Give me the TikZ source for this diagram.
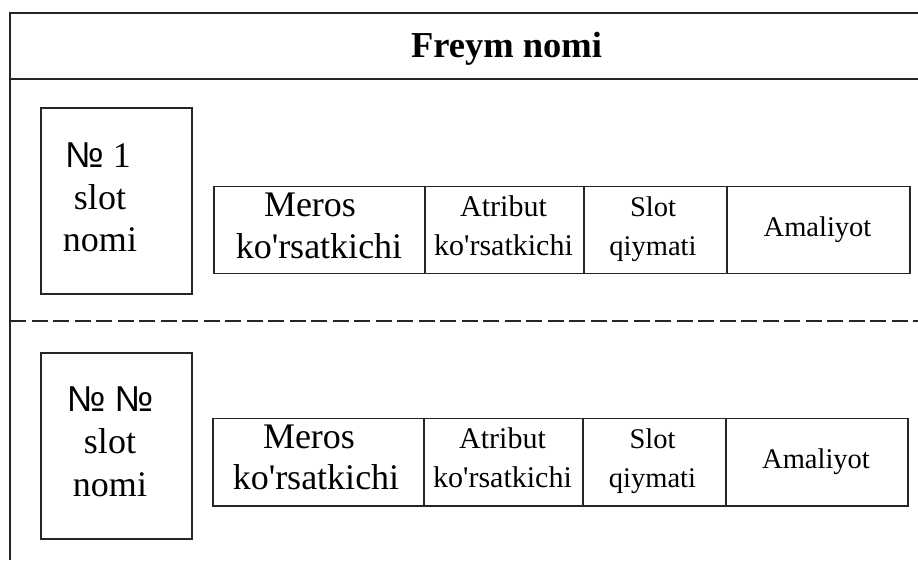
\documentclass[tikz,border=0pt]{standalone}
\usepackage{fontspec}
\setmainfont{Liberation Serif}
\newfontfamily\numfont{Liberation Sans}
\newcommand{\ap}{\textquotesingle}
\newcommand{\nosign}{{\numfont №}}
\tikzset{
  frameline/.style={draw=black!85, line width=1.9pt},
  dashline/.style={draw=black!85, line width=1.9pt, dash pattern=on 16pt off 5.5pt},
  cell/.style={frameline, anchor=north west, inner sep=0pt},
  titletxt/.style={font=\bfseries\fontsize{36.5}{42}\selectfont, inner sep=0pt, anchor=base},
  bigtxt/.style={font=\fontsize{36}{42}\selectfont, inner sep=0pt, anchor=base},
  midtxt/.style={font=\fontsize{30}{39}\selectfont, inner sep=0pt, anchor=base},
  smltxt/.style={font=\fontsize{28.5}{39}\selectfont, inner sep=0pt, anchor=base},
}
\begin{document}
\begin{tikzpicture}[x=1pt, y=-1pt]
\useasboundingbox (0,0) rectangle (918,560);
% outer frame (open on the right and at the bottom)
\coordinate (tr) at (918,13);
\coordinate (tl) at (10,13);
\coordinate (bl) at (10,560);
\coordinate (hl) at (10,79);
\coordinate (hr) at (918,79);
\coordinate (dl) at (10,321);
\coordinate (dr) at (918,321);
\draw[frameline] (tr) -- (tl) -- (bl);
\draw[frameline] (hl) -- (hr);
\draw[dashline] (dl) -- (dr);
\node[titletxt] (title) at (506.5,57) {Freym nomi};

% ---------- slot 1 ----------
\node[cell, minimum width=151pt, minimum height=186pt] (s1) at (40,107) {};
\node[bigtxt] (s1a) at (98,167) {\nosign\ 1};
\node[bigtxt] (s1b) at (100,209) {slot};
\node[bigtxt] (s1c) at (100,251.5) {nomi};

\node[cell, minimum width=211pt, minimum height=87pt] (m1) at (213,185.5) {};
\node[cell, minimum width=159pt, minimum height=87pt] (a1) at (424,185.5) {};
\node[cell, minimum width=143pt, minimum height=87pt] (v1) at (583,185.5) {};
\node[cell, minimum width=183pt, minimum height=87pt] (o1) at (726,185.5) {};
\node[bigtxt] (m1a) at (310,216) {Meros};
\node[bigtxt] (m1b) at (319,258) {ko\ap rsatkichi};
\node[midtxt] (a1a) at (503.5,216) {Atribut};
\node[midtxt] (a1b) at (503.5,255) {ko\ap rsatkichi};
\node[smltxt] (v1a) at (653,216) {Slot};
\node[smltxt] (v1b) at (653,255) {qiymati};
\node[smltxt] (o1a) at (817.5,236) {Amaliyot};

% ---------- slot 2 ----------
\node[cell, minimum width=151pt, minimum height=186pt] (s2) at (40,352) {};
\node[bigtxt] (s2a) at (110,411.5) {\nosign\ \nosign};
\node[bigtxt] (s2b) at (110,453) {slot};
\node[bigtxt] (s2c) at (110,496) {nomi};

\node[cell, minimum width=211pt, minimum height=87.5pt] (m2) at (212,417.5) {};
\node[cell, minimum width=159pt, minimum height=87.5pt] (a2) at (423,417.5) {};
\node[cell, minimum width=143pt, minimum height=87.5pt] (v2) at (582,417.5) {};
\node[cell, minimum width=182pt, minimum height=87.5pt] (o2) at (725,417.5) {};
\node[bigtxt] (m2a) at (309,448) {Meros};
\node[bigtxt] (m2b) at (316,489) {ko\ap rsatkichi};
\node[midtxt] (a2a) at (502.5,448) {Atribut};
\node[midtxt] (a2b) at (502.5,487) {ko\ap rsatkichi};
\node[smltxt] (v2a) at (652.5,448) {Slot};
\node[smltxt] (v2b) at (652.5,487) {qiymati};
\node[smltxt] (o2a) at (816,468) {Amaliyot};
\end{tikzpicture}
\end{document}
